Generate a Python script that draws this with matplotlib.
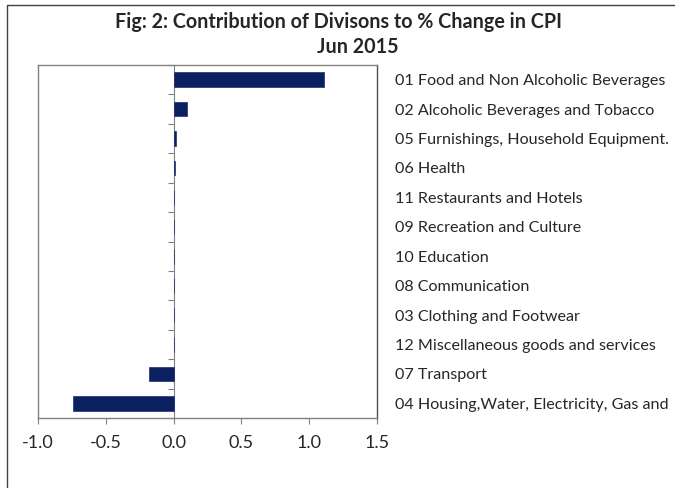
import matplotlib.pyplot as plt
from matplotlib.lines import Line2D
import numpy as np

plt.rcParams['font.family'] = ['Lato', 'DejaVu Sans']

divisions = ['01 Food and Non Alcoholic Beverages',
             '02 Alcoholic Beverages and Tobacco',
             '05 Furnishings, Household Equipment.',
             '06 Health',
             '11 Restaurants and Hotels',
             '09 Recreation and Culture',
             '10 Education',
             '08 Communication',
             '03 Clothing and Footwear',
             '12 Miscellaneous goods and services',
             '07 Transport',
             '04 Housing,Water, Electricity, Gas and']
contrib = [1.11, 0.10, 0.02, 0.01, 0.0, 0.0, 0.0, 0.0, 0.0, 0.0, -0.18, -0.74]
xticks = [-1.0, -0.5, 0.0, 0.5, 1.0, 1.5]

bar_col = '#0b2060'
grey = '#808080'
text_col = '#262626'

fig = plt.figure(figsize=(6.75, 4.88), dpi=100)
ax = fig.add_axes([38/675, 70/488, 339/675, 353/488])

y = np.arange(len(divisions))
ax.barh(y, contrib, height=0.5, color=bar_col, edgecolor='#1a3070', linewidth=0.5, zorder=3)
ax.set_xlim(-1.0, 1.5)
ax.set_ylim(len(divisions) - 0.5, -0.5)

ax.set_xticks(xticks)
ax.set_xticklabels(['%.1f' % v for v in xticks], fontsize=13, color=text_col)
ax.tick_params(axis='x', direction='out', length=4, width=0.8, color=grey, pad=8)

# labels on the right
ax.yaxis.tick_right()
ax.set_yticks(y)
ax.set_yticklabels(divisions, fontsize=11.6, color=text_col)
ax.tick_params(axis='y', length=0, pad=13)

for s in ax.spines.values():
    s.set_color(grey)
    s.set_linewidth(1.0)
ax.spines['right'].set_color('#505050')

# vertical axis at zero with category separator ticks
sec = ax.secondary_yaxis(0.4)
sec.set_yticks(np.arange(len(divisions) + 1) - 0.5)
sec.set_yticklabels([])
sec.tick_params(length=4, width=0.8, color=grey, direction='out')
sec.spines['left'].set_color(grey)
sec.spines['left'].set_linewidth(0.8)

fig.text(0.502, 0.955, 'Fig: 2: Contribution of Divisons to % Change in CPI',
         ha='center', va='center', fontsize=14.2, fontweight='bold', color=text_col)
fig.text(0.53, 0.903, 'Jun 2015', ha='center', va='center',
         fontsize=14.2, fontweight='bold', color=text_col)

# outer border of the picture
fig.add_artist(Line2D([7/675, 7/675, 1.0], [0.0, 483/488, 483/488],
                      transform=fig.transFigure, color='#404040', linewidth=1.0))

fig.savefig('out.png', dpi=100)
